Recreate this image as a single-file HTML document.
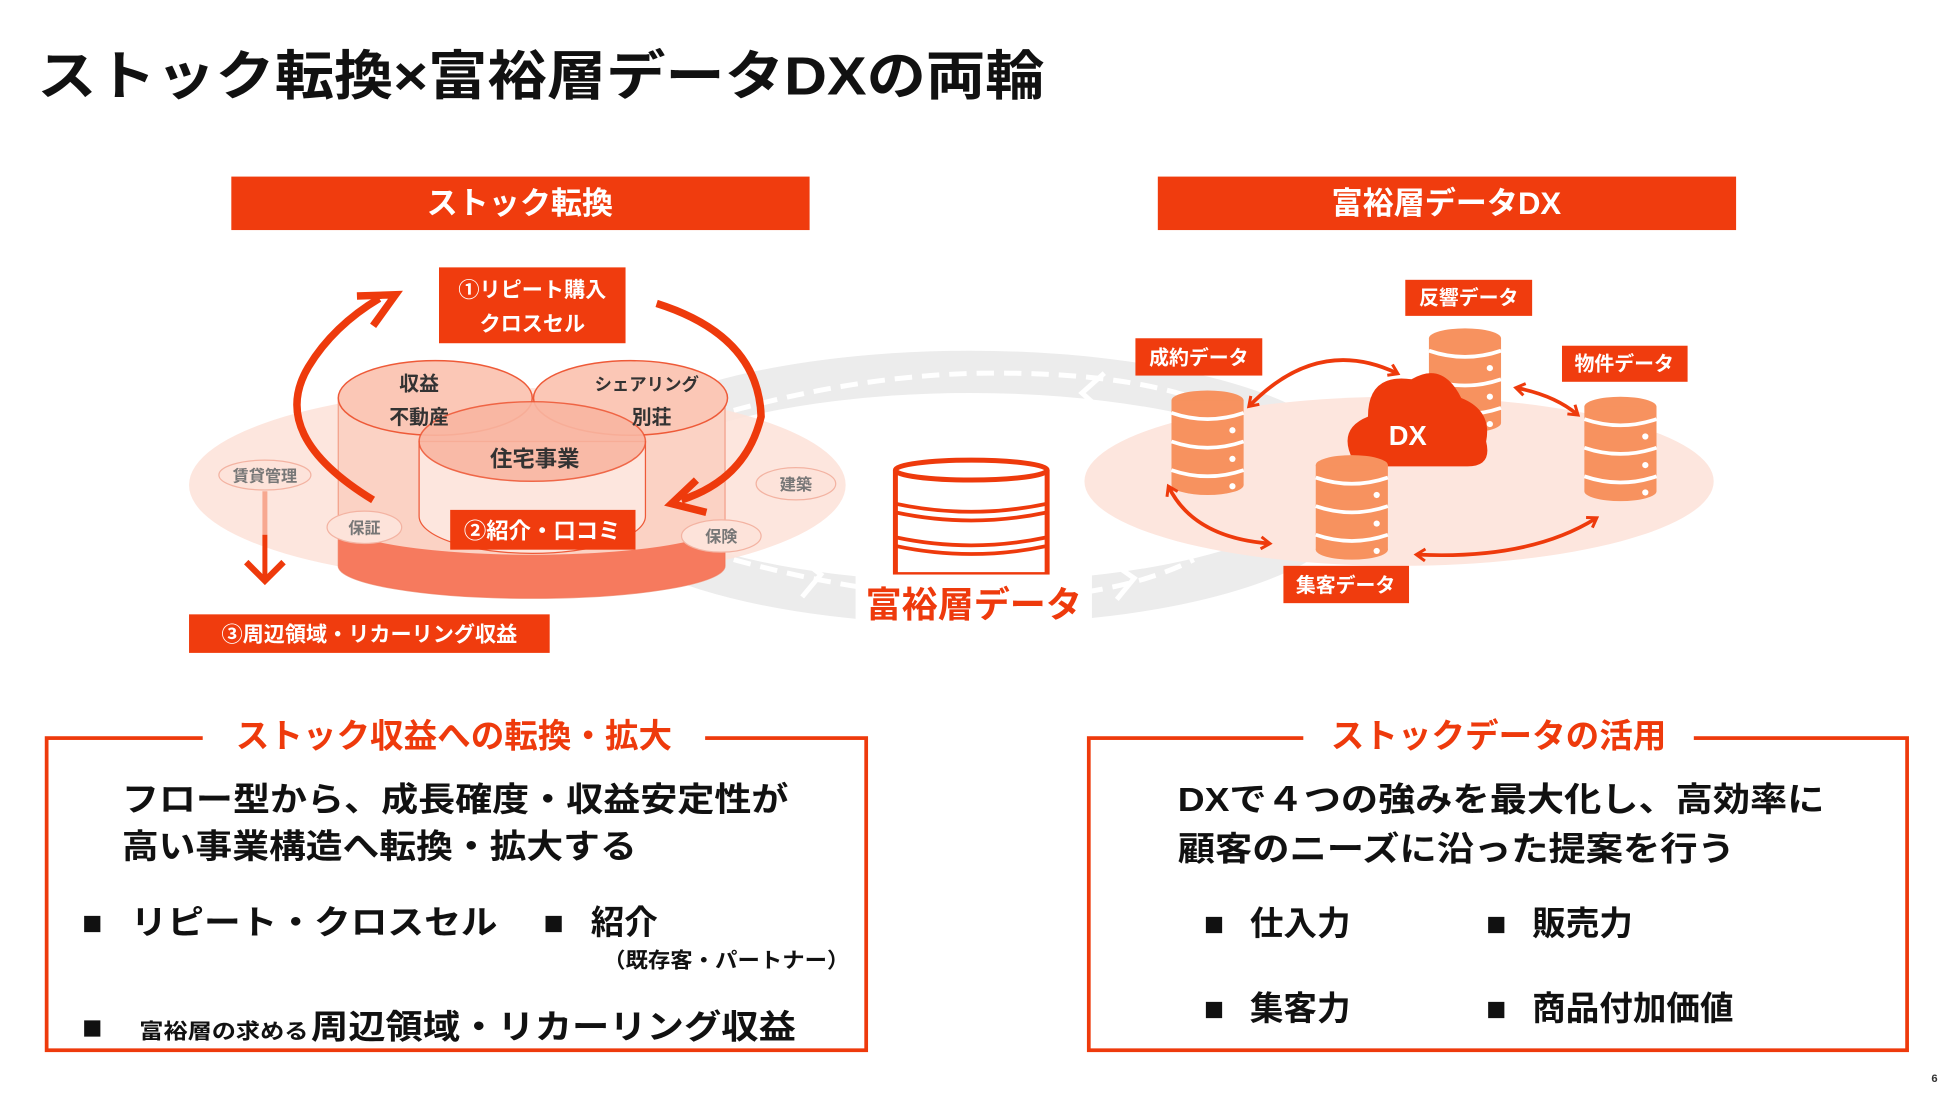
<!DOCTYPE html>
<html><head><meta charset="utf-8"><style>
html,body{margin:0;padding:0;background:#fff;width:1950px;height:1096px;overflow:hidden}
svg{display:block}
text{font-family:"Liberation Sans","Noto Sans CJK JP",sans-serif;font-weight:bold}
</style></head><body>
<svg width="1950" height="1096" viewBox="0 0 1568 881.3" xmlns="http://www.w3.org/2000/svg">
<defs>
<marker id="ah" viewBox="0 0 10 10" refX="6" refY="5" markerWidth="4" markerHeight="4" orient="auto-start-reverse"><path d="M1,1 L7,5 L1,9" fill="none" stroke="#ee3a0c" stroke-width="2"/></marker>
<g id="db"><ellipse cx="0" cy="0" rx="29" ry="8" fill="#f7925f"/><rect x="-29" y="0" width="58" height="68" fill="#f7925f"/><ellipse cx="0" cy="68" rx="29" ry="8" fill="#f7925f"/>
<path d="M-29,10 Q0,20 29,10 M-29,33 Q0,43 29,33 M-29,56 Q0,66 29,56" stroke="#fff" stroke-width="3" fill="none"/>
<circle cx="20" cy="24" r="2.5" fill="#fff"/><circle cx="20" cy="47" r="2.5" fill="#fff"/><circle cx="20" cy="69" r="2.5" fill="#fff"/></g>
<clipPath id="c1"><ellipse cx="350" cy="320" rx="78" ry="30"/></clipPath>
</defs>
<text x="30" y="76" font-size="43" fill="#111" textLength="810" lengthAdjust="spacingAndGlyphs">ストック転換×富裕層データDXの両輪</text>
<text x="1553" y="870" font-size="9" fill="#333" font-weight="normal">6</text>

<rect x="186" y="142" width="465" height="43" fill="#f03c0e"/>
<text x="418" y="172" font-size="25" fill="#fff" text-anchor="middle">ストック転換</text>
<rect x="931" y="142" width="465" height="43" fill="#f03c0e"/>
<text x="1163" y="172" font-size="25" fill="#fff" text-anchor="middle">富裕層データDX</text>

<!-- gray ring -->
<ellipse cx="780" cy="392" rx="300" ry="93" fill="none" stroke="#ececec" stroke-width="34"/>
<path d="M590,330 Q700,300 800,300 Q900,300 960,320" stroke="#fff" stroke-width="4" stroke-dasharray="14,8" fill="none"/>
<path d="M590,450 Q700,480 800,482 Q900,480 960,450" stroke="#fff" stroke-width="4" stroke-dasharray="14,8" fill="none"/>
<path d="M888,300 L870,316 L888,332" stroke="#fff" stroke-width="4" fill="none"/>
<path d="M642,448 L660,462 L645,480" stroke="#fff" stroke-width="4" fill="none"/>
<path d="M895,453 L912,465 L898,482" stroke="#fff" stroke-width="4" fill="none"/>

<!-- left -->
<ellipse cx="416" cy="390" rx="264" ry="78" fill="#fde3da" opacity="0.9"/>
<path d="M272,320 L272,455 A155,26 0 0 0 583,455 L583,320 Z" fill="#fbd2c4" stroke="#f2a08a" stroke-width="1"/>
<path d="M272,420 L272,455 A155,26 0 0 0 583,455 L583,420 A155,26 0 0 1 272,420Z" fill="#f46b4c" opacity="0.85"/>
<ellipse cx="350" cy="320" rx="78" ry="30" fill="#fbc7b6" stroke="#ee5a38" stroke-width="1.2"/>
<ellipse cx="507" cy="320" rx="78" ry="30" fill="#fbc7b6" stroke="#ee5a38" stroke-width="1.2"/>
<ellipse cx="507" cy="320" rx="78" ry="30" fill="#f0694a" clip-path="url(#c1)"/>
<path d="M337,355 L337,415 A91,30 0 0 0 519,415 L519,355 Z" fill="#fde6de" stroke="#ee5a38" stroke-width="1"/>
<ellipse cx="428" cy="355" rx="91" ry="32" fill="#f9b6a2" stroke="#ee5a38" stroke-width="1.2" opacity="0.9"/>
<text x="337" y="314" font-size="16" fill="#333" text-anchor="middle" font-weight="normal">収益</text>
<text x="337" y="341" font-size="16" fill="#333" text-anchor="middle" font-weight="normal">不動産</text>
<text x="520" y="314" font-size="14" fill="#333" text-anchor="middle" font-weight="normal">シェアリング</text>
<text x="524" y="341" font-size="16" fill="#333" text-anchor="middle" font-weight="normal">別荘</text>
<text x="430" y="375" font-size="18" fill="#333" text-anchor="middle" font-weight="normal">住宅事業</text>
<!-- arcs -->
<path d="M300,402 Q215,350 248,295 Q268,262 305,240" stroke="#ee3a0c" stroke-width="6" fill="none"/>
<path d="M287,238 L318,237 L300,262" stroke="#ee3a0c" stroke-width="6" fill="none" stroke-linejoin="miter"/>
<path d="M528,244 Q610,270 612,335 Q600,385 548,402" stroke="#ee3a0c" stroke-width="6" fill="none"/>
<path d="M560,386 L540,405 L568,412" stroke="#ee3a0c" stroke-width="6" fill="none"/>
<rect x="353" y="215" width="150" height="61" fill="#f03c0e"/>
<text x="428" y="239" font-size="17" fill="#fff" text-anchor="middle">①リピート購入</text>
<text x="428" y="266" font-size="17" fill="#fff" text-anchor="middle">クロスセル</text>
<rect x="362" y="410" width="149" height="32" fill="#f03c0e"/>
<text x="436" y="433" font-size="18" fill="#fff" text-anchor="middle">②紹介・口コミ</text>
<g font-weight="normal" font-size="13" fill="#777" text-anchor="middle">
<ellipse cx="213" cy="382" rx="37" ry="12" fill="#fde3da" stroke="#f3b3a2"/><text x="213" y="387">賃貸管理</text>
<ellipse cx="293" cy="424" rx="30" ry="13" fill="#fde3da" stroke="#f3b3a2"/><text x="293" y="429">保証</text>
<ellipse cx="640" cy="389" rx="32" ry="13" fill="#fde3da" stroke="#f3b3a2"/><text x="640" y="394">建築</text>
<ellipse cx="580" cy="431" rx="32" ry="13" fill="#fde3da" stroke="#f3b3a2"/><text x="580" y="436">保険</text>
</g>
<line x1="213" y1="395" x2="213" y2="430" stroke="#f7a890" stroke-width="4"/>
<line x1="213" y1="430" x2="213" y2="466" stroke="#ee3a0c" stroke-width="4"/>
<path d="M198,452 L213,467 L228,452" stroke="#ee3a0c" stroke-width="5" fill="none"/>
<rect x="152" y="494" width="290" height="31" fill="#f03c0e"/>
<text x="297" y="516" font-size="17" fill="#fff" text-anchor="middle">③周辺領域・リカーリング収益</text>

<!-- center db -->
<path d="M720,378 L720,462 L842,462 L842,378" fill="#fff" stroke="#ee3a0c" stroke-width="4"/>
<ellipse cx="781" cy="378" rx="61" ry="8" fill="#fff" stroke="#ee3a0c" stroke-width="4"/>
<path d="M720,405 Q781,418 842,405 M720,412 Q781,425 842,412 M720,432 Q781,445 842,432 M720,439 Q781,452 842,439" stroke="#ee3a0c" stroke-width="3" fill="none"/>
<rect x="688" y="462" width="190" height="45" fill="#fff"/>
<text x="783" y="496" font-size="29" fill="#ee3a0c" text-anchor="middle">富裕層データ</text>

<!-- right -->
<ellipse cx="1125" cy="387" rx="253" ry="68" fill="#fde6de"/>
<use href="#db" x="971" y="322"/>
<use href="#db" x="1178" y="272"/>
<path d="M1088,370 Q1075,345 1100,335 Q1100,300 1135,305 Q1160,290 1175,320 Q1200,330 1195,355 Q1200,375 1180,375 L1090,375 Z" fill="#ee3a0c"/>
<text x="1132" y="358" font-size="22" fill="#fff" text-anchor="middle" font-weight="normal">DX</text>
<use href="#db" x="1303" y="327"/>
<use href="#db" x="1087" y="374"/>
<g stroke="#ee3a0c" stroke-width="3" fill="none" marker-start="url(#ah)" marker-end="url(#ah)">
<path d="M1005,326 Q1060,270 1123,300"/>
<path d="M1220,312 Q1250,318 1268,333"/>
<path d="M940,392 Q960,432 1020,437"/>
<path d="M1140,446 Q1230,450 1283,417"/>
</g>
<g font-size="16" fill="#fff" text-anchor="middle">
<rect x="913" y="272" width="102" height="30" fill="#f03c0e"/><text x="964" y="293">成約データ</text>
<rect x="1130" y="225" width="102" height="29" fill="#f03c0e"/><text x="1181" y="245">反響データ</text>
<rect x="1256" y="278" width="101" height="29" fill="#f03c0e"/><text x="1306" y="298">物件データ</text>
<rect x="1032" y="455" width="101" height="30" fill="#f03c0e"/><text x="1082" y="476">集客データ</text>
</g>

<!-- bottom left -->
<rect x="37.5" y="593.5" width="659" height="251" fill="none" stroke="#ee3a0c" stroke-width="3"/>
<rect x="163" y="575" width="404" height="36" fill="#fff"/>
<text x="365" y="601" font-size="27" fill="#ee3a0c" text-anchor="middle">ストック収益への転換・拡大</text>
<g fill="#111">
<text x="98" y="652" font-size="27" textLength="536" lengthAdjust="spacingAndGlyphs">フロー型から、成長確度・収益安定性が</text>
<text x="98" y="690" font-size="27" textLength="414" lengthAdjust="spacingAndGlyphs">高い事業構造へ転換・拡大する</text>
<text x="66" y="751" font-size="27">■</text>
<text x="105" y="751" font-size="27" textLength="295" lengthAdjust="spacingAndGlyphs">リピート・クロスセル</text>
<text x="437" y="751" font-size="27">■</text>
<text x="475" y="751" font-size="27">紹介</text>
<text x="485" y="778" font-size="17" font-weight="normal" textLength="198" lengthAdjust="spacingAndGlyphs">（既存客・パートナー）</text>
<text x="66" y="835" font-size="27">■</text>
<text x="112" y="835" font-size="17" textLength="136" lengthAdjust="spacingAndGlyphs">富裕層の求める</text>
<text x="250" y="835" font-size="27" textLength="390" lengthAdjust="spacingAndGlyphs">周辺領域・リカーリング収益</text>
</g>

<!-- bottom right -->
<rect x="875.5" y="593.5" width="658" height="251" fill="none" stroke="#ee3a0c" stroke-width="3"/>
<rect x="1048" y="575" width="314" height="36" fill="#fff"/>
<text x="1205" y="601" font-size="27" fill="#ee3a0c" text-anchor="middle">ストックデータの活用</text>
<g fill="#111">
<text x="947" y="652" font-size="27" textLength="520" lengthAdjust="spacingAndGlyphs">DXで４つの強みを最大化し、高効率に</text>
<text x="947" y="692" font-size="27" textLength="448" lengthAdjust="spacingAndGlyphs">顧客のニーズに沿った提案を行う</text>
<text x="968" y="752" font-size="27">■</text>
<text x="1005" y="752" font-size="27">仕入力</text>
<text x="1195" y="752" font-size="27">■</text>
<text x="1232" y="752" font-size="27">販売力</text>
<text x="968" y="820" font-size="27">■</text>
<text x="1005" y="820" font-size="27">集客力</text>
<text x="1195" y="820" font-size="27">■</text>
<text x="1232" y="820" font-size="27">商品付加価値</text>
</g>
</svg>
</body></html>
